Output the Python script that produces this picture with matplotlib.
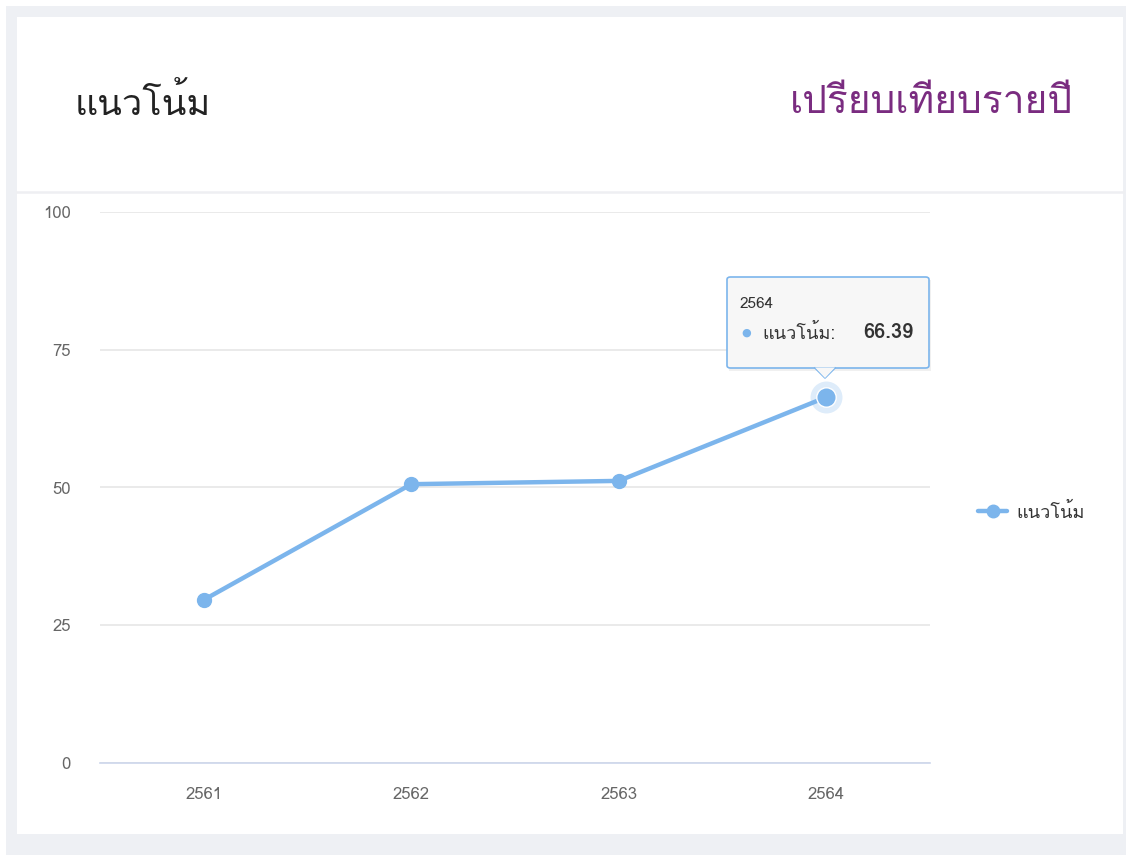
import matplotlib
matplotlib.use("Agg")
import matplotlib.pyplot as plt
from matplotlib import font_manager
from matplotlib.ft2font import FT2Font
from matplotlib.patches import Rectangle, FancyBboxPatch, Polygon

years = ["2561", "2562", "2563", "2564"]
values = [29.6, 50.6, 51.2, 66.39]
y_ticks = [0, 25, 50, 75, 100]
series_name = "แนวโน้ม"
title = "แนวโน้ม"
subtitle = "เปรียบเทียบรายปี"


def find_thai_font():
    for f in font_manager.fontManager.ttflist:
        try:
            if 0x0E41 in FT2Font(f.fname).get_charmap():
                return f.name
        except Exception:
            pass
    return None


thai = find_thai_font()
families = ["Noto Sans", "DejaVu Sans"]
if thai:
    families = [thai] + families
plt.rcParams["font.family"] = families

W, H = 1126, 855
fig = plt.figure(figsize=(W / 100, H / 100), dpi=100)


def fx(px):
    return px / W


def fy(py):
    return 1 - py / H


# page background and card
fig.patches.append(Rectangle((fx(6), 0), fx(W - 6), fy(6), transform=fig.transFigure,
                             facecolor="#eef0f4", edgecolor="none", zorder=0))
fig.patches.append(Rectangle((fx(17), fy(834)), fx(1123 - 17), (834 - 17) / H,
                             transform=fig.transFigure, facecolor="white",
                             edgecolor="none", zorder=1))
fig.lines.append(plt.Line2D([fx(17), fx(1123)], [fy(192), fy(192)], transform=fig.transFigure,
                            color="#eeeff2", lw=1.8, zorder=2))

fig.text(fx(75), fy(103), title, fontsize=26, color="#222222", va="center", ha="left")
fig.text(fx(1073), fy(103), subtitle, fontsize=28, color="#7a2c80", va="center", ha="right")

ax = fig.add_axes([fx(100), fy(763), fx(930 - 100), (763 - 212) / H], zorder=3)
ax.patch.set_alpha(0)
x = list(range(len(years)))
ax.plot(x, values, color="#7cb5ec", lw=3.2, marker="o", markersize=10,
        solid_capstyle="round", zorder=4, label=series_name)

# hovered point
ax.plot(x[-1], values[-1], "o", color="#7cb5ec", markersize=23, alpha=0.25,
        markeredgewidth=0, zorder=3)
ax.plot(x[-1], values[-1], "o", color="#7cb5ec", markersize=14,
        markeredgecolor="white", markeredgewidth=1, zorder=5)

ax.set_xlim(-0.5, len(years) - 0.5)
ax.set_ylim(0, 100)
ax.set_yticks(y_ticks)
ax.set_xticks(x)
ax.set_xticklabels(years)
ax.grid(axis="y", color="#e6e6e6", lw=1.2)
ax.set_axisbelow(True)
for s in ["top", "right", "left"]:
    ax.spines[s].set_visible(False)
ax.spines["bottom"].set_color("#ccd6eb")
ax.spines["bottom"].set_linewidth(1.2)
ax.tick_params(axis="both", length=0, labelsize=12, labelcolor="#666666")
ax.tick_params(axis="y", pad=21)
ax.tick_params(axis="x", pad=17)

# legend
leg = fig.legend(handles=ax.get_lines()[:1], loc="center left",
                 bbox_to_anchor=(fx(962), fy(512)), frameon=False, fontsize=13,
                 handlelength=1.6, handletextpad=0.5, markerscale=0.9)
for t in leg.get_texts():
    t.set_color("#333333")

# tooltip with a soft shadow
fig.patches.append(Rectangle((fx(729), fy(371)), fx(929 - 727), (368 - 277) / H,
                             transform=fig.transFigure, facecolor="#000000", alpha=0.06,
                             edgecolor="none", zorder=5))
tip = FancyBboxPatch((fx(727), fy(368)), fx(929 - 727), (368 - 277) / H,
                     boxstyle="round,pad=0,rounding_size=0.003", transform=fig.transFigure,
                     facecolor="#f7f7f7", edgecolor="#7cb5ec", lw=1.2, zorder=6)
fig.patches.append(tip)
fig.patches.append(Polygon([(fx(815), fy(367.5)), (fx(835), fy(367.5)), (fx(825), fy(378))],
                           closed=True, transform=fig.transFigure, facecolor="#f7f7f7",
                           edgecolor="none", zorder=7))
fig.lines.append(plt.Line2D([fx(815), fx(825), fx(835)], [fy(368), fy(378), fy(368)],
                            transform=fig.transFigure, color="#7cb5ec", lw=1.2, zorder=7))
fig.text(fx(740), fy(304), years[-1], fontsize=11, color="#333333", va="center", zorder=8)
fig.text(fx(741), fy(333), "●", fontsize=8, color="#7cb5ec", va="center", zorder=8)
fig.text(fx(762), fy(333), series_name + ":", fontsize=13, color="#333333", va="center", zorder=8)
fig.text(fx(914), fy(333), f"{values[-1]:.2f}", fontsize=14.5, color="#333333",
         fontweight="semibold", va="center", ha="right", zorder=8)

plt.savefig("out.png", dpi=100)
